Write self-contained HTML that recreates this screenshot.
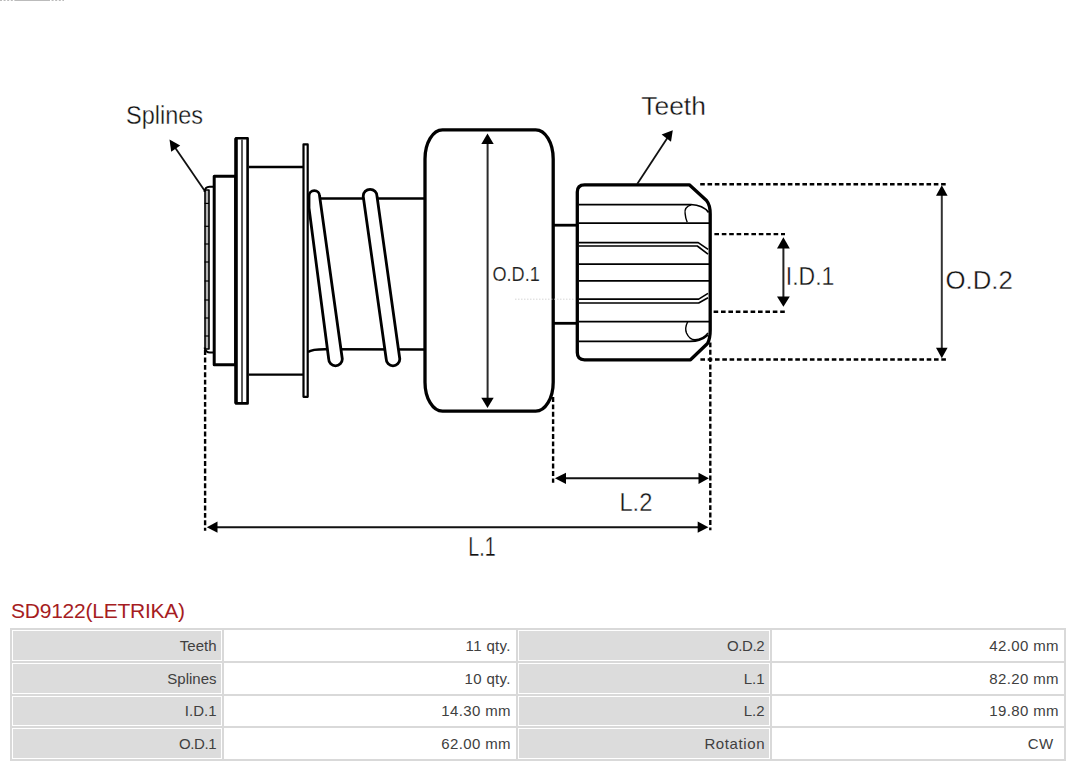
<!DOCTYPE html>
<html>
<head>
<meta charset="utf-8">
<style>
html,body{margin:0;padding:0;background:#fff;width:1080px;height:767px;overflow:hidden;}
body{position:relative;font-family:"Liberation Sans",sans-serif;}
svg.draw{position:absolute;left:0;top:0;}
.title{position:absolute;left:11px;top:598.8px;font-size:21px;letter-spacing:-0.24px;line-height:24px;color:#a61c22;white-space:nowrap;}
table.spec{position:absolute;left:10px;top:628px;width:1056px;border-collapse:separate;border-spacing:2px;background:#d9d9d9;font-size:15px;color:#404040;}
table.spec td{height:30.75px;padding:0 4.5px 0 0;border:1px solid #fff;text-align:right;white-space:nowrap;box-sizing:border-box;}
table.spec td.h{background:#dcdcdc;}
table.spec td.v{background:#fff;letter-spacing:0.35px;padding-right:4.15px;}
table.spec td.cw{padding-right:9.5px;}
table.spec td.rot{letter-spacing:0.6px;padding-right:3.9px;}
table.spec td.od{letter-spacing:-0.4px;padding-right:4.9px;}
</style>
</head>
<body>
<svg class="draw" width="1080" height="590" viewBox="0 0 1080 590">
  <g fill="none" stroke="#000" stroke-linejoin="round">
    <!-- faint top line -->
    <line x1="0" y1="0.5" x2="16" y2="0.5" stroke="#bbb" stroke-width="1" stroke-dasharray="2 1.6"/><line x1="16" y1="0.5" x2="48" y2="0.5" stroke="#bbb" stroke-width="1"/><line x1="48" y1="0.5" x2="64" y2="0.5" stroke="#bbb" stroke-width="1" stroke-dasharray="2 1.6"/>

    <!-- Splines label arrow -->
    <line x1="204.5" y1="190.5" x2="174" y2="146" stroke="#111" stroke-width="1.8"/>
    <polygon points="169.5,139.5 180.2,145.5 171.2,151.7" fill="#000" stroke="none"/>

    <!-- spline strip -->
    <rect x="205" y="190" width="4" height="159" fill="#b5b5b5" stroke="#000" stroke-width="1.6"/>
    <path d="M204.5,192 Q205,186.8 209.5,186.8 L213,186.8" stroke-width="2"/>
    <path d="M204.6,347.5 Q205.5,352.5 210,352.5 L213,352.5" stroke-width="2"/>
    <g stroke="#000" stroke-width="1.2">
      <line x1="204.6" y1="203.4" x2="209" y2="203.4"/>
      <line x1="204.6" y1="226.3" x2="209" y2="226.3"/>
      <line x1="204.6" y1="244" x2="209" y2="244"/>
      <line x1="204.6" y1="262" x2="209" y2="262"/>
      <line x1="204.6" y1="281" x2="209" y2="281"/>
      <line x1="204.6" y1="300" x2="209" y2="300"/>
      <line x1="204.6" y1="318" x2="209" y2="318"/>
      <line x1="204.6" y1="336" x2="209" y2="336"/>
    </g>

    <!-- small rect -->
    <rect x="214.2" y="176.3" width="21.5" height="188.4" stroke-width="3"/>

    <!-- thick flange -->
    <rect x="236" y="138.2" width="11.6" height="265.2" fill="#fff" stroke-width="2.6"/>
    <line x1="236" y1="138.2" x2="236" y2="403.4" stroke-width="3.4"/>
    <line x1="242" y1="139.5" x2="242" y2="402" stroke="#333" stroke-width="1.6"/>

    <!-- body between flanges -->
    <line x1="249" y1="167" x2="303" y2="167" stroke-width="2.4"/>
    <line x1="249" y1="374.6" x2="303" y2="374.6" stroke-width="2.4"/>

    <!-- thin flange -->
    <rect x="303.5" y="144.4" width="4.2" height="252.4" fill="#fff" stroke-width="2.2"/>

    <!-- shaft lines -->
    <line x1="308" y1="198.5" x2="425" y2="198.5" stroke-width="2.4"/>
    <path d="M308,352 Q312,349.3 325,349.3 L425,349.5" stroke-width="2.4"/>

    <!-- coils -->
    <path d="M309,196 A5.3,5.3 0 0 1 319.6,196 L342.3,359 A6.8,6.8 0 0 1 328.7,359 L309,208 Z" fill="#fff" stroke-width="2.8"/>
    <path d="M363.2,196.2 A6.9,6.9 0 0 1 377,196.2 L399.8,359 A6.8,6.8 0 0 1 386.2,359 Z" fill="#fff" stroke-width="2.8"/>
    <line x1="305.5" y1="145" x2="305.5" y2="396" stroke="#000" stroke-width="0"/>

    <!-- big body -->
    <rect x="425" y="129.9" width="128.2" height="281.3" rx="17.5" ry="29" fill="#fff" stroke-width="3.3"/>

    <!-- O.D.1 arrow -->
    <line x1="487.6" y1="143" x2="487.6" y2="398" stroke="#2a2a2a" stroke-width="2"/>
    <polygon points="487.5,133.5 481.3,144 493.7,144" fill="#000" stroke="none"/>
    <polygon points="487.5,408 481.3,397.7 493.7,397.7" fill="#000" stroke="none"/>

    <!-- faint dotted line -->
    <line x1="515" y1="299.2" x2="575" y2="299.2" stroke="#ccc" stroke-width="0.8" stroke-dasharray="1.5 1.5"/>

    <!-- small shaft -->
    <line x1="553" y1="225.2" x2="577" y2="225.2" stroke-width="2.8"/>
    <line x1="553" y1="323.3" x2="577" y2="323.3" stroke-width="2.8"/>

    <!-- pinion outline -->
    <path d="M577.3,192 Q577.3,184.8 584.5,184.8 L689.3,184.8 L706.5,200.5 Q710.2,205 710.2,214 L710.2,330 Q710.2,339 707.5,343.5 L690.5,359.8 L584.5,359.8 Q577.3,359.8 577.3,352.6 Z" fill="#fff" stroke-width="3.3"/>

    <!-- pinion tooth lines -->
    <g stroke-width="1.75">
      <path d="M579,204.5 L691,204.5 Q703,205 708.6,212.4"/>
      <path d="M691,204.8 Q684,207 685.1,213.4 Q685.5,218.5 687.2,222.3" stroke-width="1.4"/>
      <line x1="579" y1="223.2" x2="709" y2="223.2"/>
      <path d="M579,242.6 L698.2,242.6 L708.1,249.4" stroke-width="1.6"/>
      <path d="M579,246 L697.3,246 L708,254.1" stroke-width="1.6"/>
      <line x1="579" y1="264" x2="709" y2="264"/>
      <line x1="579" y1="280.8" x2="709" y2="280.8"/>
      <path d="M579,299.1 L698.7,299.1 L708,293.4" stroke-width="1.6"/>
      <path d="M579,303 L698.7,303 L708,297.8" stroke-width="1.6"/>
      <line x1="579" y1="321.6" x2="709" y2="321.6"/>
      <path d="M687.7,321.7 Q684.5,328 686.5,333 Q689.5,339.8 695,339.8 Q703,339.5 708,333" stroke-width="1.4"/>
      <path d="M579,341.4 L690,341.4 Q701,341.2 708,335"/>
    </g>

    <!-- Teeth arrow -->
    <line x1="637.2" y1="184" x2="668" y2="137" stroke="#111" stroke-width="1.8"/>
    <polygon points="672.8,130.2 661.6,134.5 671,141.7" fill="#000" stroke="none"/>

    <!-- O.D.2 dims -->
    <g stroke="#000" stroke-width="2.6" stroke-dasharray="4.6 2.7">
      <line x1="700.2" y1="184.3" x2="945.8" y2="184.3"/>
      <line x1="700.4" y1="359.5" x2="947" y2="359.5"/>
    </g>
    <line x1="941.8" y1="195" x2="941.8" y2="349" stroke="#333" stroke-width="2"/>
    <polygon points="941.8,185.2 936,195.8 947.6,195.8" fill="#000" stroke="none"/>
    <polygon points="941.8,358.3 936,347.8 947.6,347.8" fill="#000" stroke="none"/>

    <!-- I.D.1 dims -->
    <g stroke="#000" stroke-width="2.4" stroke-dasharray="4.6 2.8">
      <line x1="714.4" y1="234.1" x2="785" y2="234.1"/>
      <line x1="713.6" y1="311.8" x2="785.2" y2="311.8"/>
    </g>
    <line x1="783.4" y1="247" x2="783.4" y2="298" stroke="#222" stroke-width="2"/>
    <polygon points="783.4,237.3 777,248.4 789.8,248.4" fill="#000" stroke="none"/>
    <polygon points="783.4,306.7 777,296.6 789.8,296.6" fill="#000" stroke="none"/>

    <!-- vertical extension lines -->
    <g stroke="#000" stroke-width="2.4" stroke-dasharray="4.9 2.5">
      <line x1="205.1" y1="350.1" x2="205.1" y2="530.8"/>
      <line x1="553.1" y1="397" x2="553.1" y2="482.8"/>
      <line x1="710.3" y1="342.4" x2="710.3" y2="530.2"/>
    </g>

    <!-- L.2 arrow -->
    <line x1="564" y1="478.3" x2="700" y2="478.3" stroke="#111" stroke-width="2"/>
    <polygon points="554.9,478.3 566,472.7 566,483.9" fill="#000" stroke="none"/>
    <polygon points="708.9,478.3 698.5,472.7 698.5,483.9" fill="#000" stroke="none"/>

    <!-- L.1 arrow -->
    <line x1="215" y1="527.2" x2="700" y2="527.2" stroke="#111" stroke-width="2"/>
    <polygon points="206.8,527.2 217.5,521.6 217.5,532.8" fill="#000" stroke="none"/>
    <polygon points="708.4,527.2 697.7,521.6 697.7,532.8" fill="#000" stroke="none"/>
  </g>

  <!-- labels -->
  <g fill="#111" stroke="#fff" stroke-width="0.35" font-family="Liberation Sans, sans-serif">
    <text x="126" y="124.4" font-size="25.5" textLength="77" lengthAdjust="spacingAndGlyphs">Splines</text>
    <text x="641.3" y="114.8" font-size="25.8" textLength="64.6" lengthAdjust="spacingAndGlyphs">Teeth</text>
    <text x="492.5" y="280.8" font-size="20.5" stroke-width="0.15" fill="#222" textLength="47.3" lengthAdjust="spacingAndGlyphs">O.D.1</text>
    <text x="785.8" y="284.6" font-size="25.8" textLength="48.5" lengthAdjust="spacingAndGlyphs">I.D.1</text>
    <text x="945.5" y="289.4" font-size="26.6" textLength="67.3" lengthAdjust="spacingAndGlyphs">O.D.2</text>
    <text x="619.4" y="511.4" font-size="25" textLength="33" lengthAdjust="spacingAndGlyphs">L.2</text>
    <text x="468.3" y="555.9" font-size="26.8" textLength="27.3" lengthAdjust="spacingAndGlyphs">L.1</text>
  </g>
</svg>

<div class="title">SD9122(LETRIKA)</div>

<table class="spec">
  <tr><td class="h" style="width:210px">Teeth</td><td class="v" style="width:292px">11 qty.</td><td class="h od" style="width:252px">O.D.2</td><td class="v">42.00 mm</td></tr>
  <tr><td class="h">Splines</td><td class="v">10 qty.</td><td class="h">L.1</td><td class="v">82.20 mm</td></tr>
  <tr><td class="h">I.D.1</td><td class="v">14.30 mm</td><td class="h">L.2</td><td class="v">19.80 mm</td></tr>
  <tr><td class="h od">O.D.1</td><td class="v">62.00 mm</td><td class="h rot">Rotation</td><td class="v cw">CW</td></tr>
</table>
</body>
</html>
